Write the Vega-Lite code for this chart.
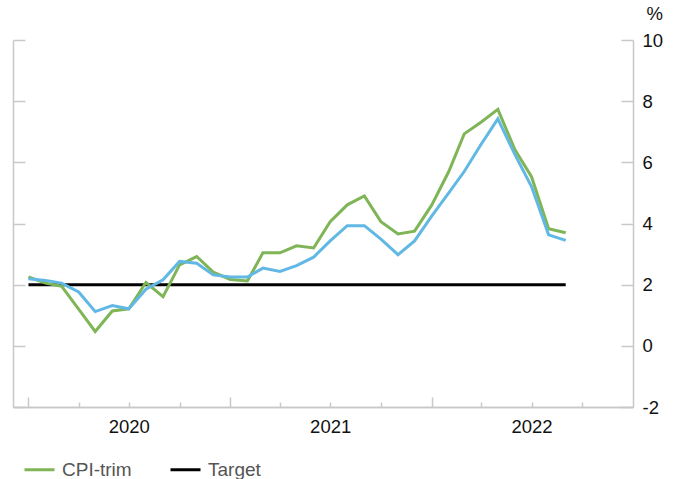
{
  "$schema": "https://vega.github.io/schema/vega-lite/v6.json",
  "width": 620,
  "height": 367,
  "autosize": {"type": "none"},
  "padding": {"left": 13, "top": 40, "right": 40, "bottom": 72},
  "background": "white",
  "config": {
    "view": {"stroke": null},
    "font": "Liberation Sans",
    "axis": {
      "domainColor": "#c8c8c8",
      "domainWidth": 1.5,
      "tickColor": "#c8c8c8",
      "tickWidth": 1.5,
      "grid": false,
      "labelFont": "Liberation Sans",
      "labelFontSize": 18.5,
      "labelColor": "#111111"
    }
  },
  "datasets": {
    "lines": [
      {"date": "2020-01-01", "series": "CPI-trim", "value": 2.25},
      {"date": "2020-02-01", "series": "CPI-trim", "value": 2.05},
      {"date": "2020-03-01", "series": "CPI-trim", "value": 1.95},
      {"date": "2020-04-01", "series": "CPI-trim", "value": 1.2},
      {"date": "2020-05-01", "series": "CPI-trim", "value": 0.47},
      {"date": "2020-06-01", "series": "CPI-trim", "value": 1.14},
      {"date": "2020-07-01", "series": "CPI-trim", "value": 1.21},
      {"date": "2020-08-01", "series": "CPI-trim", "value": 2.07},
      {"date": "2020-09-01", "series": "CPI-trim", "value": 1.61},
      {"date": "2020-10-01", "series": "CPI-trim", "value": 2.65},
      {"date": "2020-11-01", "series": "CPI-trim", "value": 2.92},
      {"date": "2020-12-01", "series": "CPI-trim", "value": 2.41},
      {"date": "2021-01-01", "series": "CPI-trim", "value": 2.17},
      {"date": "2021-02-01", "series": "CPI-trim", "value": 2.12},
      {"date": "2021-03-01", "series": "CPI-trim", "value": 3.04},
      {"date": "2021-04-01", "series": "CPI-trim", "value": 3.04},
      {"date": "2021-05-01", "series": "CPI-trim", "value": 3.27},
      {"date": "2021-06-01", "series": "CPI-trim", "value": 3.2},
      {"date": "2021-07-01", "series": "CPI-trim", "value": 4.06},
      {"date": "2021-08-01", "series": "CPI-trim", "value": 4.61},
      {"date": "2021-09-01", "series": "CPI-trim", "value": 4.9},
      {"date": "2021-10-01", "series": "CPI-trim", "value": 4.06},
      {"date": "2021-11-01", "series": "CPI-trim", "value": 3.66},
      {"date": "2021-12-01", "series": "CPI-trim", "value": 3.75},
      {"date": "2022-01-01", "series": "CPI-trim", "value": 4.6},
      {"date": "2022-02-01", "series": "CPI-trim", "value": 5.7},
      {"date": "2022-03-01", "series": "CPI-trim", "value": 6.93},
      {"date": "2022-04-01", "series": "CPI-trim", "value": 7.32},
      {"date": "2022-05-01", "series": "CPI-trim", "value": 7.73},
      {"date": "2022-06-01", "series": "CPI-trim", "value": 6.41},
      {"date": "2022-07-01", "series": "CPI-trim", "value": 5.53},
      {"date": "2022-08-01", "series": "CPI-trim", "value": 3.83},
      {"date": "2022-09-01", "series": "CPI-trim", "value": 3.7},
      {"date": "2020-01-01", "series": "CPI-median", "value": 2.19},
      {"date": "2020-02-01", "series": "CPI-median", "value": 2.14},
      {"date": "2020-03-01", "series": "CPI-median", "value": 2.05},
      {"date": "2020-04-01", "series": "CPI-median", "value": 1.76},
      {"date": "2020-05-01", "series": "CPI-median", "value": 1.12},
      {"date": "2020-06-01", "series": "CPI-median", "value": 1.32},
      {"date": "2020-07-01", "series": "CPI-median", "value": 1.21},
      {"date": "2020-08-01", "series": "CPI-median", "value": 1.85},
      {"date": "2020-09-01", "series": "CPI-median", "value": 2.16},
      {"date": "2020-10-01", "series": "CPI-median", "value": 2.76},
      {"date": "2020-11-01", "series": "CPI-median", "value": 2.7},
      {"date": "2020-12-01", "series": "CPI-median", "value": 2.32},
      {"date": "2021-01-01", "series": "CPI-median", "value": 2.25},
      {"date": "2021-02-01", "series": "CPI-median", "value": 2.25},
      {"date": "2021-03-01", "series": "CPI-median", "value": 2.54},
      {"date": "2021-04-01", "series": "CPI-median", "value": 2.43},
      {"date": "2021-05-01", "series": "CPI-median", "value": 2.62},
      {"date": "2021-06-01", "series": "CPI-median", "value": 2.9},
      {"date": "2021-07-01", "series": "CPI-median", "value": 3.43},
      {"date": "2021-08-01", "series": "CPI-median", "value": 3.93},
      {"date": "2021-09-01", "series": "CPI-median", "value": 3.93},
      {"date": "2021-10-01", "series": "CPI-median", "value": 3.49},
      {"date": "2021-11-01", "series": "CPI-median", "value": 2.98},
      {"date": "2021-12-01", "series": "CPI-median", "value": 3.43},
      {"date": "2022-01-01", "series": "CPI-median", "value": 4.24},
      {"date": "2022-02-01", "series": "CPI-median", "value": 5.0},
      {"date": "2022-03-01", "series": "CPI-median", "value": 5.7},
      {"date": "2022-04-01", "series": "CPI-median", "value": 6.6},
      {"date": "2022-05-01", "series": "CPI-median", "value": 7.42},
      {"date": "2022-06-01", "series": "CPI-median", "value": 6.25},
      {"date": "2022-07-01", "series": "CPI-median", "value": 5.21},
      {"date": "2022-08-01", "series": "CPI-median", "value": 3.63},
      {"date": "2022-09-01", "series": "CPI-median", "value": 3.45}
    ],
    "target": [
      {"date": "2020-01-01", "series": "Target", "value": 2},
      {"date": "2022-09-01", "series": "Target", "value": 2}
    ]
  },
  "layer": [
    {
      "data": {"name": "target"},
      "mark": {"type": "line", "strokeWidth": 3},
      "encoding": {
        "x": {"field": "date", "type": "temporal", "scale": {"type": "utc", "domain": [{"year": 2019, "month": 12, "date": 4, "utc": true}, {"year": 2023, "month": 1, "date": 1, "utc": true}]},
          "axis": {"orient": "bottom", "title": null, "domain": true, "labels": false, "ticks": true, "tickSize": -10,
            "values": [{"year": 2020, "month": 1, "date": 1, "utc": true}, {"year": 2021, "month": 1, "date": 1, "utc": true}, {"year": 2022, "month": 1, "date": 1, "utc": true}]}},
        "y": {"field": "value", "type": "quantitative", "scale": {"domain": [-2, 10], "nice": false, "zero": false},
          "axis": {"orient": "left", "title": null, "labels": false, "tickSize": -12, "values": [-2, 0, 2, 4, 6, 8, 10]}},
        "color": {"field": "series", "type": "nominal",
          "scale": {"domain": ["CPI-trim", "CPI-median", "Target"], "range": ["#7fb556", "#62b8e4", "#000000"]},
          "legend": {"values": ["CPI-trim", "Target"], "orient": "none", "legendX": 10, "legendY": 413, "direction": "horizontal", "title": null,
            "symbolType": "stroke", "symbolSize": 900, "symbolStrokeWidth": 3, "labelFontSize": 19, "labelFont": "Liberation Sans", "labelColor": "#555555", "labelOffset": 6, "columnPadding": 32}}
      }
    },
    {
      "data": {"name": "lines"},
      "mark": {"type": "line", "strokeWidth": 3},
      "encoding": {
        "x": {"field": "date", "type": "temporal",
          "axis": {"orient": "bottom", "title": null, "domain": true, "ticks": true, "tickSize": -5, "labelPadding": 15, "labelOverlap": false,
            "labelExpr": "utcmonth(datum.value) == 6 ? utcFormat(datum.value, '%Y') : ''",
            "values": [{"year": 2020, "month": 4, "date": 1, "utc": true}, {"year": 2020, "month": 7, "date": 1, "utc": true}, {"year": 2020, "month": 10, "date": 1, "utc": true},
                       {"year": 2021, "month": 4, "date": 1, "utc": true}, {"year": 2021, "month": 7, "date": 1, "utc": true}, {"year": 2021, "month": 10, "date": 1, "utc": true},
                       {"year": 2022, "month": 4, "date": 1, "utc": true}, {"year": 2022, "month": 7, "date": 1, "utc": true}, {"year": 2022, "month": 10, "date": 1, "utc": true}]}},
        "y": {"field": "value", "type": "quantitative",
          "axis": {"orient": "right", "title": "%", "titleAngle": 0, "titleAlign": "left", "titleBaseline": "alphabetic", "titleX": 13, "titleY": -21,
            "titleFontSize": 18.5, "titleFontWeight": "normal", "titleFont": "Liberation Sans", "titleColor": "#111111",
            "tickSize": -12, "labelPadding": 21, "labelAlign": "left", "labelBaseline": "middle", "labelExpr": "'' + datum.value", "values": [-2, 0, 2, 4, 6, 8, 10]}},
        "color": {"field": "series", "type": "nominal"}
      }
    }
  ],
  "resolve": {"axis": {"x": "independent", "y": "independent"}}
}
